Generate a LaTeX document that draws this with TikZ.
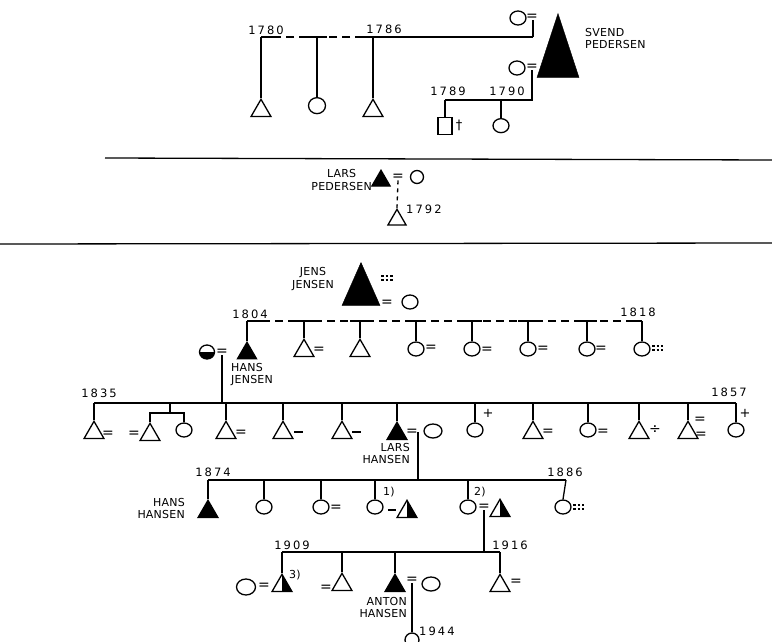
\documentclass[tikz,border=0pt]{standalone}
\usepackage{fontspec}
\newfontfamily\hand[LetterSpace=2]{DejaVu Sans}
\newfontfamily\yrfont[LetterSpace=18]{DejaVu Sans}
\usetikzlibrary{shapes.geometric}
\begin{document}
\begin{tikzpicture}[x=1pt,y=-1pt,
  ln/.style={line width=1.3pt},
  dsh/.style={line width=1.3pt, dash pattern=on 8pt off 5pt},
  tri/.style={regular polygon, regular polygon sides=3, draw, line width=1.3pt, minimum size=23pt, inner sep=0pt},
  ftri/.style={tri, fill=black},
  htri/.style={tri, path picture={\fill[black] (path picture bounding box.south) rectangle (path picture bounding box.north east);}},
  bigtri/.style={isosceles triangle, shape border rotate=90, isosceles triangle stretches, draw, fill=black, inner sep=0pt},
  circ/.style={ellipse, draw, line width=1.3pt, minimum width=16pt, minimum height=14pt, inner sep=0pt},
  hcirc/.style={circ, path picture={\fill[black] (path picture bounding box.west) rectangle (path picture bounding box.south east);}},
  sq/.style={rectangle, draw, line width=1.3pt, minimum width=14pt, minimum height=17pt, inner sep=0pt},
  lbl/.style={font=\hand\fontsize{11}{12.5}\selectfont, inner sep=0pt},
  yr/.style={font=\yrfont\fontsize{11.5}{12}\selectfont, inner sep=0pt},
  eqm/.style={font=\hand\fontsize{14}{14}\selectfont, inner sep=0pt},
  crs/.style={font=\hand\fontsize{13}{13}\selectfont, inner sep=0pt},
  dashm/.style={line width=2.2pt},
  dotted eq/.style={line width=1.2pt, dash pattern=on 2.5pt off 2pt},
]
\useasboundingbox (0,0) rectangle (772,642);

% ---------------- top section ----------------
\node[yr] (y1780) at (266,30) {1780};
\node[yr] (y1786) at (384,29) {1786};
\coordinate (tbL) at (261,37);
\coordinate (tbR) at (533,37);
\node[circ] (w1) at (518,18) {};
\node[eqm] (w1e) at (532,17) {=};
\node[bigtri, minimum width=42pt, minimum height=64pt, anchor=apex] (svend) at (558,13) {};
\node[lbl, anchor=north west, align=left] (svendl) at (585,28) {SVEND\\PEDERSEN};
\draw[ln] (w1e.south -| tbR) -- (tbR);
\draw[ln] (tbR) -- (363,37);
\draw[dsh] (363,37) -- (327,37);
\draw[ln] (327,37) -- (307,37);
\draw[dsh] (307,37) -- (278,37);
\draw[ln] (278,37) -- (tbL);
\node[tri, anchor=corner 1] (t1) at (261,98) {};
\node[circ, minimum width=17pt, minimum height=16pt, anchor=north] (t2) at (317,97) {};
\node[tri, anchor=corner 1] (t3) at (373,98) {};
\draw[ln] (tbL) -- (t1.corner 1);
\draw[ln] (t2.north |- tbL) -- (t2.north);
\draw[ln] (t3.corner 1 |- tbL) -- (t3.corner 1);

\node[circ] (w2) at (517,68) {};
\node[eqm] (w2e) at (532,67) {=};
\coordinate (sbL) at (445,100);
\draw[ln] (w2e.south) -- (w2e.south |- sbL) -- (sbL);
\node[yr] (y1789) at (448,91) {1789};
\node[yr] (y1790) at (507,91) {1790};
\node[sq, anchor=north] (s1) at (445,117) {};
\node[crs] (s1d) at (459,125) {†};
\node[circ, anchor=north] (s2) at (501,118) {};
\draw[ln] (sbL) -- (s1.north);
\draw[ln] (s2.north |- sbL) -- (s2.north);

% separators
\draw[ln] (105,158) -- (772,160);
\draw[ln] (0,244) -- (772,243);

% ---------------- middle section ----------------
\node[ftri, minimum size=21pt, anchor=corner 1] (lp) at (381,169) {};
\node[lbl, align=center, anchor=east] (lpl) at (372,180) {LARS\\PEDERSEN};
\node[eqm] (lpe) at (398,177) {=};
\node[circ, minimum width=13pt, minimum height=13pt] (lpw) at (417,177) {};
\node[tri, minimum size=21pt, anchor=corner 1] (lpc) at (397,208) {};
\draw[ln, dash pattern=on 4pt off 4pt] (lpe.south) -- (lpc.corner 1);
\node[yr, anchor=west] (y1792) at (406,209) {1792};

% ---------------- bottom section ----------------
\node[bigtri, minimum width=38pt, minimum height=43pt, anchor=apex] (jens) at (361,262) {};
\node[lbl, align=center] (jensl) at (313,279) {JENS\\JENSEN};
\draw[dotted eq] (381,276) -- (393,276) (381,280) -- (393,280);
\node[eqm] (jense) at (387,303) {=};
\node[circ] (jensw) at (410,302) {};

\node[yr] (y1804) at (250,314) {1804};
\node[yr] (y1818) at (638,312) {1818};
\coordinate (jbL) at (247,321);
\coordinate (jbR) at (642,321);
\draw[ln] (jbL) -- (262,321);
\draw[dsh] (262,321) -- (628,321);
\draw[ln] (628,321) -- (jbR);
\foreach \x in {304,360,416,472,528,587} \draw[ln] ({\x-10},321) -- ({\x+10},321);

\node[ftri, minimum size=22pt, anchor=corner 1] (hj) at (247,341) {};
\draw[ln] (jbL) -- (hj.corner 1);
\node[hcirc, minimum width=15pt, minimum height=14pt] (hjw) at (207,352) {};
\node[eqm] (hje) at (222,352) {=};
\node[lbl, anchor=north west, align=left] (hjl) at (231,363) {HANS\\JENSEN};

\node[tri, anchor=corner 1] (j2) at (304,338) {};
\node[eqm] (j2e) at (319,350) {=};
\node[tri, anchor=corner 1] (j3) at (360,338) {};
\node[circ] (j4) at (416,349) {};
\node[eqm] (j4e) at (431,348) {=};
\node[circ] (j5) at (472,349) {};
\node[eqm] (j5e) at (487,350) {=};
\node[circ] (j6) at (528,349) {};
\node[eqm] (j6e) at (543,349) {=};
\node[circ] (j7) at (587,349) {};
\node[eqm] (j7e) at (601,349) {=};
\node[circ] (j8) at (642,349) {};
\draw[dotted eq] (652,346) -- (663,346) (652,350) -- (663,350);
\foreach \n in {j2,j3} \draw[ln] (\n.corner 1 |- jbL) -- (\n.corner 1);
\foreach \n in {j4,j5,j6,j7,j8} \draw[ln] (\n.north |- jbL) -- (\n.north);

% generation of 1835-1857
\node[yr] (y1835) at (99,393) {1835};
\node[yr] (y1857) at (729,392) {1857};
\coordinate (hbL) at (94,403);
\coordinate (hbR) at (736,403);
\draw[ln] (hje.south) -- (hje.south |- hbL);
\draw[ln] (hbL) -- (hbR);

\node[tri, anchor=corner 1] (h1) at (94,420) {};
\node[eqm] (h1e) at (108,434) {=};
\coordinate (tw) at (170,413);
\node[tri, anchor=corner 1] (h2a) at (150,422) {};
\node[eqm] (h2ae) at (134,434) {=};
\node[circ] (h2b) at (184,430) {};
\draw[ln] (tw |- hbL) -- (tw);
\draw[ln] (h2a.corner 1) -- (h2a.corner 1 |- tw) -- (h2b.north |- tw) -- (h2b.north);
\node[tri, anchor=corner 1] (h3) at (226,420) {};
\node[eqm] (h3e) at (241,433) {=};
\node[tri, anchor=corner 1] (h4) at (283,420) {};
\draw[dashm] (294,432) -- (303,432);
\node[tri, anchor=corner 1] (h5) at (342,420) {};
\draw[dashm] (352,432) -- (361,432);
\node[ftri, anchor=corner 1] (h6) at (397,421) {};
\node[eqm] (h6e) at (412,432) {=};
\node[circ, minimum width=18pt] (h6w) at (433,431) {};
\node[lbl, anchor=north east, align=right] (h6l) at (410,443) {LARS\\HANSEN};
\node[circ] (h7) at (475,430) {};
\node[crs] (h7x) at (488,413) {+};
\node[tri, anchor=corner 1] (h8) at (533,420) {};
\node[eqm] (h8e) at (548,432) {=};
\node[circ] (h9) at (588,430) {};
\node[eqm] (h9e) at (603,432) {=};
\node[tri, anchor=corner 1] (h10) at (639,420) {};
\node[eqm] (h10e) at (655,430) {÷};
\node[tri, anchor=corner 1] (h11) at (688,420) {};
\node[eqm] (h11a) at (700,420) {=};
\node[eqm] (h11b) at (701,435) {=};
\node[circ] (h12) at (736,430) {};
\node[crs] (h12x) at (745,413) {+};
\foreach \n in {h1,h3,h4,h5,h6,h8,h10,h11} \draw[ln] (\n.corner 1 |- hbL) -- (\n.corner 1);
\foreach \n in {h7,h9,h12} \draw[ln] (\n.north |- hbL) -- (\n.north);

% generation of 1874-1886
\node[yr] (y1874) at (213,472) {1874};
\node[yr] (y1886) at (565,472) {1886};
\coordinate (gbL) at (208,480);
\coordinate (gbR) at (566,480);
\draw[ln] (h6e.east) -- (h6e.east |- gbL);
\draw[ln] (gbL) -- (gbR);
\node[ftri, anchor=corner 1] (g1) at (208,499) {};
\node[lbl, anchor=north east, align=right] (g1l) at (185,498) {HANS\\HANSEN};
\node[circ] (g2) at (264,507) {};
\node[circ] (g3) at (321,507) {};
\node[eqm] (g3e) at (336,508) {=};
\node[circ] (g4) at (375,507) {};
\node[lbl] (g4n) at (389,492) {1)};
\draw[dashm] (388,510) -- (396,510);
\node[htri, anchor=corner 1] (g4h) at (407,499) {};
\node[circ] (g5) at (468,507) {};
\node[lbl] (g5n) at (480,492) {2)};
\node[eqm] (g5e) at (484,507) {=};
\node[htri, anchor=corner 1] (g5h) at (500,498) {};
\node[circ] (g6) at (563,507) {};
\draw[dotted eq] (573,505) -- (584,505) (573,509) -- (584,509);
\draw[ln] (gbL) -- (g1.corner 1);
\foreach \n in {g2,g3,g4,g5} \draw[ln] (\n.north |- gbL) -- (\n.north);
\draw[ln] (gbR) -- (g6.north);

% generation of 1909-1916
\node[yr] (y1909) at (292,545) {1909};
\node[yr] (y1916) at (510,545) {1916};
\coordinate (bbL) at (282,552);
\coordinate (bbR) at (500,552);
\draw[ln] (g5e.south) -- (g5e.south |- bbL);
\draw[ln] (bbL) -- (bbR);
\node[htri, anchor=corner 1] (b1) at (282,573) {};
\node[lbl] (b1n) at (295,575) {3)};
\node[eqm] (b1e) at (264,586) {=};
\node[circ, minimum width=19pt, minimum height=16pt] (b1w) at (246,587) {};
\node[tri, anchor=corner 1] (b2) at (342,572) {};
\node[eqm] (b2e) at (326,588) {=};
\node[ftri, anchor=corner 1] (b3) at (395,573) {};
\node[eqm] (b3e) at (412,580) {=};
\node[circ, minimum width=18pt] (b3w) at (431,584) {};
\node[lbl, anchor=north east, align=right] (b3l) at (407,597) {ANTON\\HANSEN};
\node[tri, anchor=corner 1] (b4) at (500,573) {};
\node[eqm] (b4e) at (516,582) {=};
\foreach \n in {b1,b2,b3,b4} \draw[ln] (\n.corner 1 |- bbL) -- (\n.corner 1);
\node[circ, minimum width=14pt, minimum height=14pt] (c44) at (412,640) {};
\draw[ln] (b3e.south) -- (b3e.south |- c44.north);
\node[yr, anchor=west] (y1944) at (419,631) {1944};
\end{tikzpicture}
\end{document}
